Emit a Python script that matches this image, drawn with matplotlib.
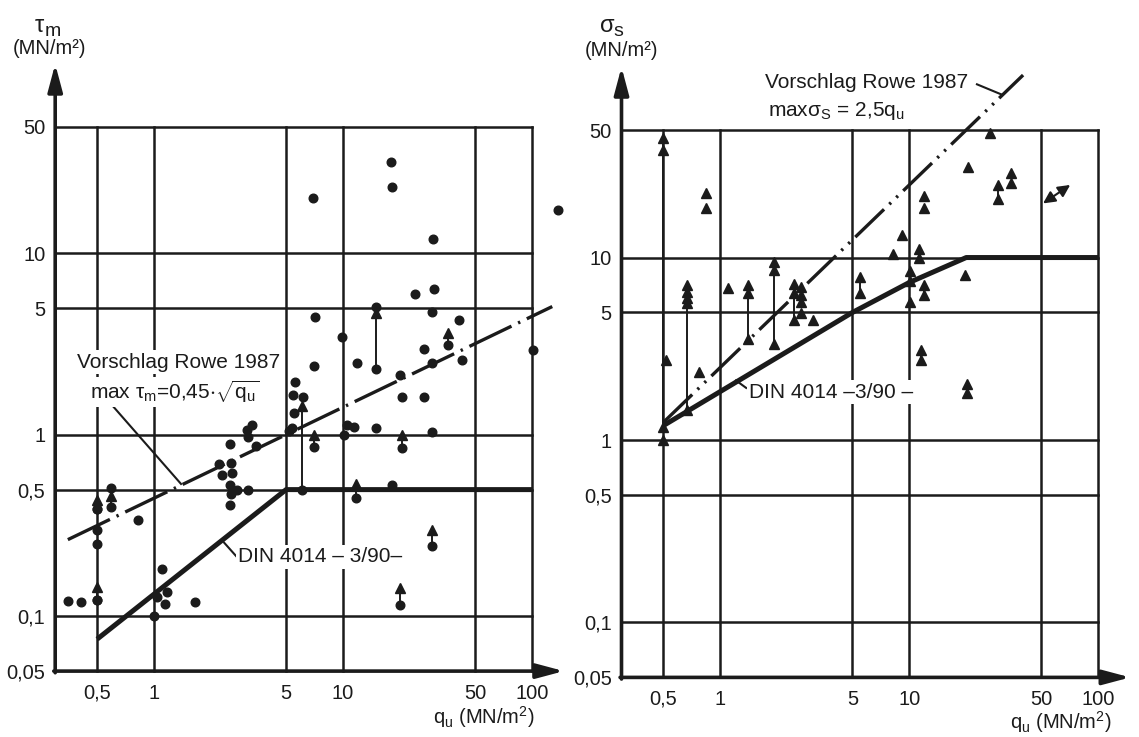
import matplotlib
matplotlib.use('Agg')
import matplotlib.pyplot as plt
from matplotlib.ticker import FixedLocator, NullLocator

plt.rcParams['font.family'] = ['Liberation Sans', 'DejaVu Sans']
plt.rcParams['mathtext.fontset'] = 'custom'
plt.rcParams['mathtext.rm'] = 'Liberation Sans'
plt.rcParams['mathtext.it'] = 'Liberation Sans'
plt.rcParams['mathtext.sf'] = 'Liberation Sans'
plt.rcParams['mathtext.default'] = 'regular'

INK = '#1b1b1b'
W, H = 1139, 737

# ---------------- axes ticks ----------------
x_ticks = [0.5, 1, 5, 10, 50, 100]
x_tick_labels = ['0,5', '1', '5', '10', '50', '100']
y_ticks = [0.05, 0.1, 0.5, 1, 5, 10, 50]
y_tick_labels = ['0,05', '0,1', '0,5', '1', '5', '10', '50']

# ---------------- left panel: tau_m ----------------
tau_dot_q = [0.35, 0.41, 0.5, 0.5, 0.5, 0.5, 0.59, 0.82,
             1.0, 1.04, 1.10, 1.17, 1.14, 1.65,
             2.2, 2.28, 2.52, 2.55, 2.58, 2.55, 2.52, 2.52, 2.75, 3.15,
             3.1, 3.3, 3.15, 3.45,
             5.6, 5.45, 5.5, 5.35, 5.15, 6.15,
             10.1, 10.5, 11.4, 14.9, 29.7, 20.6, 26.9, 18.1,
             17.9, 18.2, 6.96, 138, 29.8, 24, 30.2, 29.7, 41.3, 7.1, 9.9,
             14.9, 11.9, 7.05, 26.9, 29.7, 42.5, 101, 20]
tau_dot_v = [0.122, 0.12, 0.25, 0.30, 0.39, 0.123, 0.51, 0.34,
             0.10, 0.128, 0.183, 0.137, 0.117, 0.12,
             0.69, 0.60, 0.89, 0.70, 0.62, 0.47, 0.41, 0.53, 0.50, 0.50,
             1.07, 1.13, 0.97, 0.87,
             1.97, 1.66, 1.32, 1.09, 1.05, 1.62,
             1.0, 1.13, 1.11, 1.09, 1.04, 1.62, 1.62, 0.53,
             32, 23.2, 20.3, 17.4, 12.0, 6.0, 6.35, 4.78, 4.3, 4.49, 3.47,
             5.1, 2.48, 2.41, 2.96, 2.5, 2.59, 2.94, 2.14]
# lower-bound arrows: value at dot -> arrow head
tau_arrow_q = [0.5, 0.5, 0.59, 6.1, 7.0, 20.4, 11.7, 29.7, 20.0, 14.9, 36.0]
tau_arrow_from = [0.123, 0.39, 0.40, 0.5, 0.86, 0.85, 0.45, 0.243, 0.116, 2.3, 3.13]
tau_arrow_to = [0.145, 0.44, 0.46, 1.45, 1.0, 1.0, 0.54, 0.30, 0.143, 4.7, 3.66]
# DIN 4014 limit line
din_tau_q = [0.5, 5, 100]
din_tau_v = [0.075, 0.5, 0.5]
# Rowe 1987 proposal (max tau = 0.45 sqrt(qu)), end points
rowe_tau_q = [0.35, 128]
rowe_tau_v = [0.265, 5.1]

# ---------------- right panel: sigma_s ----------------
sig_tri_q = [0.5, 0.5, 0.516, 0.664, 0.664, 0.664, 0.774, 0.84, 0.84, 1.10,
             1.40, 1.92, 2.45, 2.67, 2.67, 2.67, 2.67, 3.08,
             8.24, 9.2, 26.7, 20.5, 34.4, 34.4, 11.9, 11.9, 10.1, 19.6]
sig_tri_v = [1.0, 39, 2.74, 6.5, 5.98, 5.62, 2.37, 22.5, 18.8, 6.77,
             6.36, 8.5, 6.36, 6.93, 6.24, 5.74, 4.94, 4.54,
             10.5, 13.3, 47.9, 31.2, 29, 25.5, 21.7, 18.6, 5.74, 8.0]
sig_arrow_q = [0.5, 0.664, 1.40, 1.92, 2.45, 5.5, 29.3, 11.2, 10.1, 11.9, 11.6, 20.1]
sig_arrow_from = [1.18, 1.46, 3.56, 3.36, 4.54, 6.36, 21, 9.9, 7.4, 6.24, 2.74, 1.8]
sig_arrow_to = [45, 7.06, 7.07, 9.5, 7.2, 7.85, 25, 11.2, 8.4, 7.07, 3.1, 2.04]
# double arrow (beyond range)
sig_double_q = [51, 71]
sig_double_v = [19.8, 25]
# DIN 4014 limit line
din_sig_q = [0.5, 5, 10, 20, 100]
din_sig_v = [1.2, 5.0, 7.3, 10, 10]
# Rowe 1987 proposal (max sigma = 2.5 qu), end points
rowe_sig_q = [0.5, 40]
rowe_sig_v = [1.25, 100]


def px(x, y):
    return x / W, 1 - y / H


fig = plt.figure(figsize=(W / 100, H / 100), dpi=100)
fig.patch.set_facecolor('white')

axL = fig.add_axes([55.2 / W, 1 - 671.1 / H, 476.8 / W, 544.5 / H])
axR = fig.add_axes([621.5 / W, 1 - 677.4 / H, 476.8 / W, 547.4 / H])


def setup(ax):
    ax.set_xscale('log')
    ax.set_yscale('log')
    ax.set_xlim(0.3, 100)
    ax.set_ylim(0.05, 50)
    ax.patch.set_alpha(0)
    for s in ax.spines.values():
        s.set_visible(False)
    ax.xaxis.set_major_locator(FixedLocator(x_ticks))
    ax.yaxis.set_major_locator(FixedLocator(y_ticks))
    ax.xaxis.set_minor_locator(NullLocator())
    ax.yaxis.set_minor_locator(NullLocator())
    ax.set_xticklabels(x_tick_labels)
    ax.set_yticklabels(y_tick_labels)
    ax.tick_params(axis='both', length=0, labelsize=14.5, colors=INK)
    ax.tick_params(axis='x', pad=9)
    ax.tick_params(axis='y', pad=7)
    for v in x_ticks:
        ax.axvline(v, color=INK, lw=1.8, zorder=1, clip_on=False)
    for v in y_ticks[1:]:
        ax.axhline(v, color=INK, lw=1.8, zorder=1, clip_on=False)
    arrow = dict(arrowstyle='-|>,head_length=1.5,head_width=0.4', lw=2.6,
                 color=INK, shrinkA=0, shrinkB=0, mutation_scale=11)
    ax.annotate('', xy=(0, 1.115), xytext=(0, -0.003), xycoords='axes fraction',
                arrowprops=arrow, annotation_clip=False, zorder=3)
    ax.annotate('', xy=(1.067, 0), xytext=(-0.003, 0), xycoords='axes fraction',
                arrowprops=arrow, annotation_clip=False, zorder=3)


setup(axL)
setup(axR)

# ---- left panel marks ----
axL.plot(din_tau_q, din_tau_v, color=INK, lw=3.6, solid_capstyle='butt', zorder=3)
axL.plot(rowe_tau_q, rowe_tau_v, color=INK, lw=2.4, dashes=(14, 2.2, 0.7, 2.2),
         dash_capstyle='butt', clip_on=False, zorder=3)
for q, a, b in zip(tau_arrow_q, tau_arrow_from, tau_arrow_to):
    axL.plot([q, q], [a, b], color=INK, lw=1.4, zorder=4)
    axL.plot([q], [b], marker='^', ms=7.5, color=INK, lw=0, zorder=5)
    axL.plot([q], [a], marker='o', ms=6.2, color=INK, lw=0, zorder=5)
axL.plot(tau_dot_q, tau_dot_v, 'o', ms=6.2, color=INK, clip_on=False, zorder=5)

# leader lines
axL.plot([0.61, 1.39], [1.43, 0.537], color=INK, lw=1.5, zorder=3)
axL.plot([2.72, 2.35], [0.215, 0.255], color=INK, lw=1.5, zorder=3)

box = dict(facecolor='white', edgecolor='none', pad=1.5)
fig.text(*px(77, 362), 'Vorschlag Rowe 1987', fontsize=15, color=INK,
         va='center', ha='left', bbox=box, zorder=6)
fig.text(*px(90, 392), r'max $\tau_m$=0,45$\cdot\sqrt{q_u}$', fontsize=15, color=INK,
         va='center', ha='left', bbox=box, zorder=6)
fig.text(*px(238, 557), 'DIN 4014 – 3/90–', fontsize=15, color=INK,
         va='center', ha='left', bbox=box, zorder=6)

# axis titles left
fig.text(*px(35, 26), 'τ', fontsize=17, color=INK, va='center', ha='left')
fig.text(*px(45, 31), 'm', fontsize=14, color=INK, va='center', ha='left')
fig.text(*px(50, 48), '(MN/m²)', fontsize=14.5, color=INK, va='center', ha='center')
fig.text(*px(433, 717), r'q$_u$ (MN/m$^2$)', fontsize=14.5, color=INK, va='center', ha='left')

# ---- right panel marks ----
axR.plot(din_sig_q, din_sig_v, color=INK, lw=3.6, solid_capstyle='butt', zorder=3)
axR.plot(rowe_sig_q, rowe_sig_v, color=INK, lw=2.4, dashes=(12, 2.2, 0.7, 2.2, 0.7, 2.2),
         dash_capstyle='butt', clip_on=False, zorder=3)
for q, a, b in zip(sig_arrow_q, sig_arrow_from, sig_arrow_to):
    axR.plot([q, q], [a, b], color=INK, lw=1.4, zorder=4)
    axR.plot([q, q], [a, b], marker='^', ms=7.5, color=INK, lw=0, zorder=5)
axR.plot(sig_tri_q, sig_tri_v, '^', ms=7.5, color=INK, clip_on=False, zorder=5)
axR.annotate('', xy=(sig_double_q[1], sig_double_v[1]), xytext=(sig_double_q[0], sig_double_v[0]),
             arrowprops=dict(arrowstyle='<|-|>,head_length=0.6,head_width=0.3', lw=1.5,
                             color=INK, shrinkA=0, shrinkB=0, mutation_scale=12), zorder=5)

axR.plot([22.8, 31], [89, 78], color=INK, lw=1.5, clip_on=False, zorder=3)
axR.plot([1.37, 1.21], [1.93, 2.12], color=INK, lw=1.5, zorder=3)

fig.text(*px(765, 83), 'Vorschlag Rowe 1987', fontsize=15, color=INK,
         va='center', ha='left', zorder=6)
fig.text(*px(768, 111), r'max$\sigma_S$ = 2,5q$_u$', fontsize=15, color=INK,
         va='center', ha='left', zorder=6)
fig.text(*px(749, 392), 'DIN 4014 –3/90 –', fontsize=15, color=INK,
         va='center', ha='left', bbox=box, zorder=6)

fig.text(*px(600, 26), 'σ', fontsize=17, color=INK, va='center', ha='left')
fig.text(*px(613, 31), 's', fontsize=14, color=INK, va='center', ha='left')
fig.text(*px(622, 51), '(MN/m²)', fontsize=14.5, color=INK, va='center', ha='center')
fig.text(*px(1010, 722), r'q$_u$ (MN/m$^2$)', fontsize=14.5, color=INK, va='center', ha='left')

fig.savefig('out.png', dpi=100, facecolor='white')
